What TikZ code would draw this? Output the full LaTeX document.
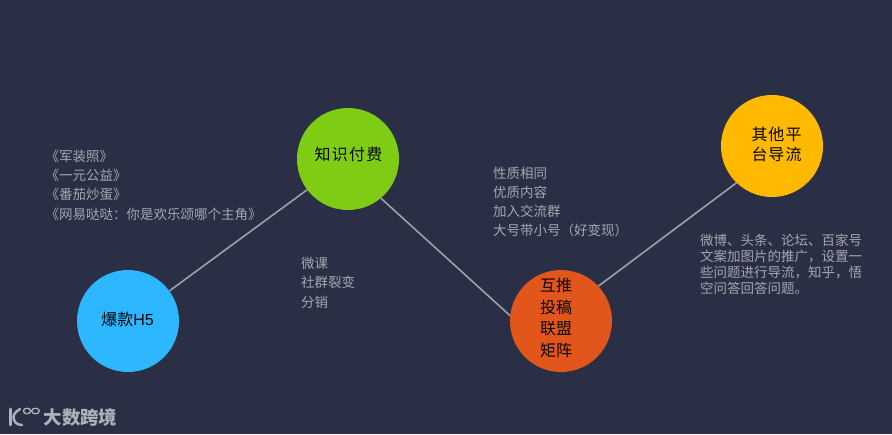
\documentclass[tikz,border=0pt]{standalone}
\usepackage{fontspec}
\setmainfont{Noto Sans CJK SC}
\newfontfamily\latinface{Liberation Sans}
\definecolor{bgc}{HTML}{2A2F45}
\definecolor{linec}{HTML}{9CA1AE}
\definecolor{txtc}{HTML}{A4A7B0}
\definecolor{cblue}{HTML}{2DB7FF}
\definecolor{cgreen}{HTML}{7FCC14}
\definecolor{corange}{HTML}{E2561C}
\definecolor{cyellow}{HTML}{FFB900}
\definecolor{logoc}{HTML}{AEB1B9}
\tikzset{
  bubble/.style={circle,minimum size=102pt,inner sep=0pt},
  bubbletext/.style={text=black!85!bgc,inner sep=0pt,align=center,font=\fontsize{16}{#1}\selectfont},
  bubbletext/.default=20,
  link/.style={draw=linec,line width=1.6pt},
  note/.style={text=txtc,anchor=north west,inner sep=0pt,align=left,font=\fontsize{13.5}{19.3}\selectfont},
  notetight/.style={note,font=\fontsize{13.5}{16}\selectfont},
  logomark/.style={draw=logoc,line cap=round}
}
\begin{document}
\begin{tikzpicture}[x=1pt,y=-1pt]
\useasboundingbox (0,0) rectangle (892,434);
\fill[bgc] (0,0) rectangle (892,434);
\node[bubble,fill=cblue] (a) at (128,321) {};
\node[bubble,fill=cgreen] (b) at (348,159) {};
\node[bubble,fill=corange] (c) at (561,321) {};
\node[bubble,fill=cyellow] (d) at (772,146) {};
\node[bubbletext] (at) at (127.5,319) {爆款{\latinface H5}};
\node[bubbletext] (bt) at (348.5,154) {知\kern1.2pt 识\kern1.2pt 付\kern1.2pt 费};
\node[bubbletext=21.7] (ct) at (556,318) {互推\\投稿\\联盟\\矩阵};
\node[bubbletext=20] (dt) at (776.5,144) {其\kern1pt 他\kern1pt 平\\台\kern1pt 导\kern1pt 流};
\draw[link] (a.36) -- (b.217);
\draw[link] (b.-50.6) -- (c.174);
\draw[link] (c.43) -- (d.226.6);
\node[note] (n1) at (45.5,149.5) {《军装照》\\《一元公益》\\《番茄炒蛋》\\《网易哒哒：你是欢乐颂哪个主角》};
\node[note] (n2) at (301,257) {微课\\社群裂变\\分销};
\node[note] (n3) at (493,166.5) {性质相同\\优质内容\\加入交流群\\大号带小号（好变现）};
\node[notetight] (n4) at (700,234) {微博、头条、论坛、百家号\\文案加图片的推广，设置一\\些问题进行导流，知乎，悟\\空问答回答问题。};
\node[text=logoc,anchor=west,inner sep=0pt,font=\fontsize{18.4}{18}\selectfont\bfseries] (logo) at (43.5,417) {大数跨境};
\draw[logomark,line width=2.6pt] (10.5,409) -- (10.5,425);
\draw[logomark,line width=2.4pt] (20,409) .. controls (15,412) and (13.5,415) .. (13.5,417) .. controls (13.5,421) and (16,425) .. (22,425);
\draw[logomark,line width=1.3pt] (27,411) ellipse (3.6pt and 2.8pt);
\draw[logomark,line width=1.3pt] (35.5,411) ellipse (3.8pt and 2.8pt);
\end{tikzpicture}
\end{document}
